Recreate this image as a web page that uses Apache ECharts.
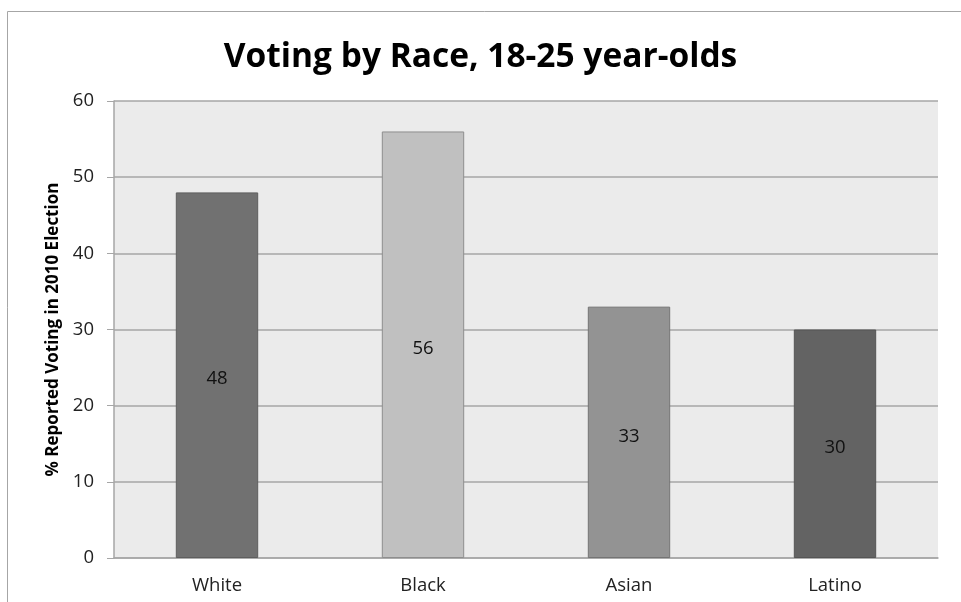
<!DOCTYPE html>
<html>
<head>
<meta charset="utf-8">
<script src="https://cdn.jsdelivr.net/npm/echarts@6/dist/echarts.min.js"></script>
<style>
  html, body { margin: 0; padding: 0; background: #fff; }
  #main { width: 961px; height: 602px; }
</style>
</head>
<body>
<div id="main"></div>
<script>
// values
const categories = ["White", "Black", "Asian", "Latino"];
const values = [48, 56, 33, 30];
const barColors = ["#717171", "#c0c0c0", "#939393", "#636363"];
const borderColors = ["#5e5e5e", "#8e8e8e", "#747474", "#555555"];

const myChart = echarts.init(document.getElementById("main"));

const option = {
  animation: false,
  backgroundColor: "#fff",
  textStyle: { fontFamily: "Open Sans" },
  title: {
    text: "Voting by Race, 18-25 year-olds",
    left: "center",
    top: 35,
    textStyle: { fontFamily: "Open Sans", fontSize: 33.5, fontWeight: "bold", color: "#000" },
  },
  graphic: [
    {
      type: "rect",
      left: 5,
      top: 9,
      shape: { width: 1000, height: 1000 },
      style: { fill: "none", stroke: "#a6a6a6", lineWidth: 1 },
      silent: true,
      z: -1,
    },
  ],
  grid: {
    left: 114,
    right: 23,
    top: 101,
    bottom: 44,
    show: true,
    backgroundColor: "#ebebeb",
    borderWidth: 0,
  },
  xAxis: {
    type: "category",
    data: categories,
    axisTick: { show: false },
    axisLine: { lineStyle: { color: "#a6a6a6", width: 1.5 } },
    axisLabel: { color: "#222", fontSize: 18.5, margin: 18 },
  },
  yAxis: {
    type: "value",
    min: 0,
    max: 60,
    interval: 10,
    name: "% Reported Voting in 2010 Election",
    nameLocation: "middle",
    nameGap: 50,
    nameTextStyle: { color: "#000", fontSize: 17, fontWeight: "bold" },
    axisLine: { show: true, lineStyle: { color: "#a6a6a6", width: 1.5 } },
    axisTick: { show: true, inside: false, length: 7, lineStyle: { color: "#a6a6a6" } },
    axisLabel: { color: "#222", fontSize: 18.5, margin: 20 },
    splitLine: { lineStyle: { color: "#a6a6a6", width: 1.5 } },
  },
  series: [
    {
      type: "bar",
      barWidth: "40%",
      data: values.map(function (v, i) {
        return {
          value: v,
          itemStyle: { color: barColors[i], borderColor: borderColors[i], borderWidth: 1 },
        };
      }),
      label: {
        show: true,
        position: "inside",
        offset: [0, 4],
        color: "#111",
        fontSize: 18.5,
      },
    },
  ],
};

myChart.setOption(option);
</script>
</body>
</html>
